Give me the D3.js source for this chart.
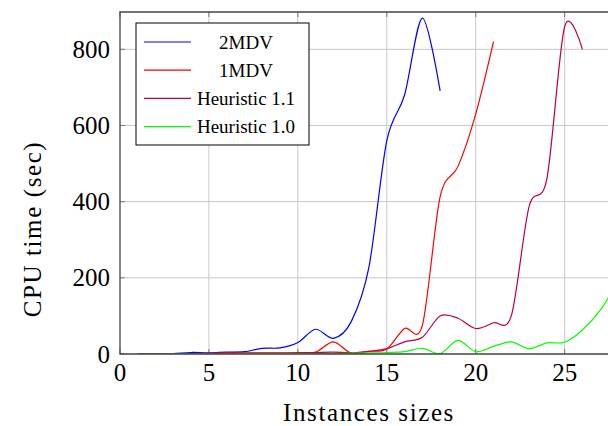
<!DOCTYPE html>
<html lang="en">
<head>
    <meta charset="UTF-8">
    <title>CPU time vs instance size</title>
    <script src="https://d3js.org/d3.v7.min.js"></script>
    <style>
        body {
            margin: 0;
            padding: 0;
            background-color: #fff;
        }

        svg {
            display: block;
        }

        text {
            font-family: 'Liberation Serif', 'DejaVu Serif', serif;
            fill: #000;
        }

        .grid line {
            stroke: #c8c8c8;
            stroke-width: 1;
        }

        .series {
            fill: none;
            stroke-width: 1.2;
        }
    </style>
</head>
<body>
    <svg id="chart" width="608" height="426"></svg>
    <script>
        // valeurs
        const xTicks = [0, 5, 10, 15, 20, 25];
        const yTicks = [0, 200, 400, 600, 800];

        const sizes2MDV = [1, 2, 3, 4, 5, 6, 7, 8, 9, 10, 11, 12, 13, 14, 15, 16, 17, 18];
        const cpu2MDV = [0, 0, 1, 4, 3, 5, 6, 15, 16, 30, 65, 41, 85, 229, 560, 680, 882, 691];

        const sizes1MDV = [1, 2, 3, 4, 5, 6, 7, 8, 9, 10, 11, 12, 13, 14, 15, 16, 17, 18, 19, 20, 21];
        const cpu1MDV = [0, 0, 0, 1, 2, 3, 3, 3, 3, 3, 5, 32, 2, 7, 13, 67, 75, 413, 492, 630, 820];

        const sizesH11 = [1, 2, 3, 4, 5, 6, 7, 8, 9, 10, 11, 12, 13, 14, 15, 16, 17, 18, 19, 20, 21, 22, 23, 24, 25, 26];
        const cpuH11 = [0, 0, 0, 1, 1, 2, 2, 2, 2, 3, 4, 5, 3, 7, 14, 32, 44, 100, 94, 67, 82, 100, 387, 460, 860, 800];

        const sizesH10 = [1, 2, 3, 4, 5, 6, 7, 8, 9, 10, 11, 12, 13, 14, 15, 16, 17, 18, 19, 20, 21, 22, 23, 24, 25, 26, 27, 28];
        const cpuH10 = [0, 0, 0, 0, 0, 0, 1, 1, 1, 1, 1, 1, 2, 3, 4, 6, 15, 1, 36, 6, 20, 32, 14, 29, 31, 63, 115, 190];

        const seriesNames = ["2MDV", "1MDV", "Heuristic 1.1", "Heuristic 1.0"];
        const seriesColors = ["#0000ff", "#ff0000", "#bf0040", "#00ff00"];

        const series = [
            { x: sizes2MDV, y: cpu2MDV },
            { x: sizes1MDV, y: cpu1MDV },
            { x: sizesH11, y: cpuH11 },
            { x: sizesH10, y: cpuH10 }
        ];

        const serif = "'Liberation Serif', 'DejaVu Serif', serif";
        const svg = d3.select("#chart");

        const plotLeft = 120, plotRight = 618, plotTop = 12, plotBottom = 354;

        const xScale = d3.scaleLinear().domain([0, 28]).range([plotLeft, plotRight]);
        const yScale = d3.scaleLinear().domain([0, 898]).range([plotBottom, plotTop]);

        svg.append("clipPath")
            .attr("id", "plot-clip")
            .append("rect")
            .attr("x", plotLeft)
            .attr("y", plotTop)
            .attr("width", plotRight - plotLeft)
            .attr("height", plotBottom - plotTop);

        // grille
        const grid = svg.append("g").attr("class", "grid");
        grid.selectAll(".vx")
            .data(xTicks.filter(d => d > 0))
            .enter()
            .append("line")
            .attr("x1", d => xScale(d))
            .attr("x2", d => xScale(d))
            .attr("y1", plotTop)
            .attr("y2", plotBottom);
        grid.selectAll(".hy")
            .data(yTicks.filter(d => d > 0))
            .enter()
            .append("line")
            .attr("x1", plotLeft)
            .attr("x2", plotRight)
            .attr("y1", d => yScale(d))
            .attr("y2", d => yScale(d));

        // petites graduations vers l'intérieur
        const ticks = svg.append("g").attr("stroke", "#7a7a7a").attr("stroke-width", 1);
        xTicks.forEach(d => {
            ticks.append("line").attr("x1", xScale(d)).attr("x2", xScale(d)).attr("y1", plotBottom).attr("y2", plotBottom - 5);
            ticks.append("line").attr("x1", xScale(d)).attr("x2", xScale(d)).attr("y1", plotTop).attr("y2", plotTop + 5);
        });
        yTicks.forEach(d => {
            ticks.append("line").attr("x1", plotLeft).attr("x2", plotLeft + 5).attr("y1", yScale(d)).attr("y2", yScale(d));
        });

        // courbes
        const line = d3.line()
            .x(d => xScale(d[0]))
            .y(d => yScale(d[1]))
            .curve(d3.curveCardinal.tension(0.08));

        const plot = svg.append("g").attr("clip-path", "url(#plot-clip)");
        series.forEach((s, i) => {
            plot.append("path")
                .datum(s.x.map((v, k) => [v, s.y[k]]))
                .attr("class", "series")
                .attr("stroke", seriesColors[i])
                .attr("d", line);
        });

        // cadre
        svg.append("path")
            .attr("d", `M${plotRight + 2},${plotTop}H${plotLeft}V${plotBottom}H${plotRight + 2}`)
            .attr("fill", "none")
            .attr("stroke", "#444")
            .attr("stroke-width", 1.3);

        // étiquettes des axes
        svg.selectAll(".xlab")
            .data(xTicks)
            .enter()
            .append("text")
            .attr("font-family", serif)
            .attr("font-size", 25)
            .attr("x", d => xScale(d))
            .attr("y", 381)
            .attr("text-anchor", "middle")
            .text(d => d);

        svg.selectAll(".ylab")
            .data(yTicks)
            .enter()
            .append("text")
            .attr("font-family", serif)
            .attr("font-size", 25)
            .attr("x", 110)
            .attr("y", d => yScale(d) + 8.5)
            .attr("text-anchor", "end")
            .text(d => d);

        svg.append("text")
            .attr("font-family", serif)
            .attr("x", 369)
            .attr("y", 421)
            .attr("text-anchor", "middle")
            .attr("font-size", 25)
            .attr("letter-spacing", 1.6)
            .text("Instances sizes");

        svg.append("text")
            .attr("font-family", serif)
            .attr("transform", "translate(41,229) rotate(-90)")
            .attr("text-anchor", "middle")
            .attr("font-size", 25)
            .attr("letter-spacing", 1.6)
            .text("CPU time (sec)");

        // légende
        const legend = svg.append("g").attr("transform", "translate(136,23)");
        legend.append("rect")
            .attr("width", 173)
            .attr("height", 122)
            .attr("fill", "#fff")
            .attr("stroke", "#000")
            .attr("stroke-width", 1);

        seriesNames.forEach((name, i) => {
            const yy = 19 + i * 28.2;
            legend.append("line")
                .attr("x1", 8)
                .attr("x2", 55)
                .attr("y1", yy)
                .attr("y2", yy)
                .attr("stroke", seriesColors[i])
                .attr("stroke-width", 1.2);
            legend.append("text")
                .attr("font-family", serif)
                .attr("x", 110)
                .attr("y", yy + 6.5)
                .attr("text-anchor", "middle")
                .attr("font-size", 19)
                .text(name);
        });
    </script>
</body>
</html>
